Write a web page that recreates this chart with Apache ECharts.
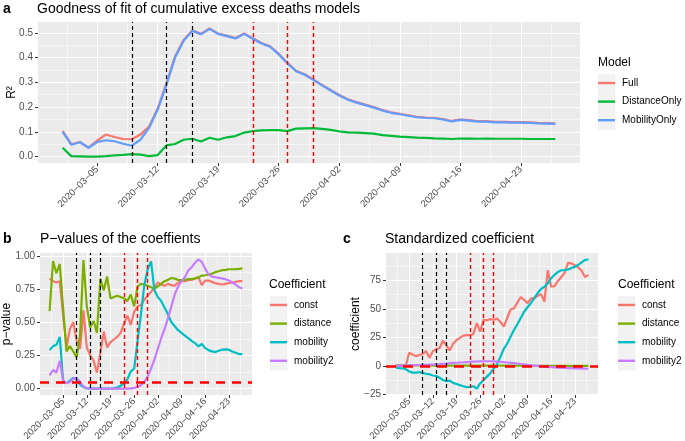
<!DOCTYPE html>
<html>
<head>
<meta charset="utf-8">
<script src="https://cdn.jsdelivr.net/npm/echarts@6/dist/echarts.min.js"></script>
<style>
html, body { margin: 0; padding: 0; background: #fff; }
#main { width: 685px; height: 441px; }
</style>
</head>
<body>
<div id="main"></div>
<script>
// dates of the daily fits
var dates = [
  '2020-03-01','2020-03-02','2020-03-03','2020-03-04','2020-03-05','2020-03-06','2020-03-07','2020-03-08','2020-03-09','2020-03-10',
  '2020-03-11','2020-03-12','2020-03-13','2020-03-14','2020-03-15','2020-03-16','2020-03-17','2020-03-18','2020-03-19','2020-03-20',
  '2020-03-21','2020-03-22','2020-03-23','2020-03-24','2020-03-25','2020-03-26','2020-03-27','2020-03-28','2020-03-29','2020-03-30',
  '2020-03-31','2020-04-01','2020-04-02','2020-04-03','2020-04-04','2020-04-05','2020-04-06','2020-04-07','2020-04-08','2020-04-09',
  '2020-04-10','2020-04-11','2020-04-12','2020-04-13','2020-04-14','2020-04-15','2020-04-16','2020-04-17','2020-04-18','2020-04-19',
  '2020-04-20','2020-04-21','2020-04-22','2020-04-23','2020-04-24','2020-04-25','2020-04-26','2020-04-27'
];
var dateTicks = ['2020-03-05','2020-03-12','2020-03-19','2020-03-26','2020-04-02','2020-04-09','2020-04-16','2020-04-23'];
var blackDates = ['2020-03-09','2020-03-13','2020-03-16'];
var redDates = ['2020-03-23','2020-03-27','2020-03-30'];

// a: R2
var r2Full = [0.104,0.050,0.059,0.036,0.065,0.089,0.079,0.071,0.070,0.089,0.121,0.195,0.295,0.404,0.471,0.510,0.496,0.518,0.497,0.489,0.479,0.498,0.478,0.459,0.446,0.415,0.379,0.347,0.333,0.312,0.290,0.269,0.249,0.232,0.220,0.210,0.200,0.188,0.179,0.173,0.167,0.161,0.158,0.157,0.152,0.144,0.150,0.147,0.143,0.143,0.140,0.140,0.139,0.139,0.138,0.136,0.135,0.134];
var r2Distance = [0.036,0.002,0.001,0.000,0.000,0.002,0.005,0.007,0.010,0.008,0.002,0.006,0.045,0.051,0.068,0.072,0.061,0.076,0.068,0.078,0.083,0.097,0.103,0.106,0.107,0.107,0.103,0.113,0.114,0.115,0.112,0.108,0.102,0.098,0.097,0.095,0.093,0.087,0.084,0.081,0.079,0.077,0.076,0.074,0.073,0.071,0.073,0.073,0.072,0.073,0.072,0.072,0.072,0.072,0.071,0.071,0.071,0.071];
var r2Mobility = [0.100,0.048,0.058,0.035,0.059,0.066,0.062,0.052,0.044,0.068,0.116,0.190,0.290,0.400,0.468,0.508,0.494,0.516,0.495,0.487,0.477,0.496,0.476,0.457,0.444,0.413,0.377,0.345,0.331,0.310,0.288,0.267,0.247,0.230,0.218,0.208,0.198,0.186,0.177,0.171,0.165,0.159,0.156,0.155,0.150,0.142,0.148,0.145,0.141,0.141,0.138,0.138,0.137,0.137,0.136,0.134,0.133,0.132];

// b: p-values
var pConst = [0.83,0.81,0.80,0.81,0.55,0.31,0.45,0.50,0.36,0.30, 0.59,0.31,0.25,0.21,0.12,0.27,0.43,0.31,0.35,0.37, 0.39,0.42,0.49,0.55,0.48,0.58,0.62,0.63,0.67,0.70, 0.73,0.76,0.80,0.785,0.775,0.79,0.78,0.775,0.80,0.81, 0.81,0.82,0.82,0.83,0.84,0.78,0.815,0.815,0.805,0.795, 0.79,0.785,0.79,0.795,0.80,0.805,0.81,0.81];
var pDistance = [0.585,0.962,0.87,0.94,0.60,0.28,0.32,0.28,0.235,0.40, 0.97,0.62,0.46,0.51,0.42,0.83,0.74,0.845,0.68,0.69, 0.70,0.69,0.68,0.66,0.71,0.62,0.77,0.79,0.785,0.776, 0.765,0.755,0.77,0.79,0.81,0.82,0.834,0.83,0.82,0.818, 0.82,0.825,0.827,0.83,0.84,0.852,0.855,0.86,0.867,0.878, 0.885,0.893,0.896,0.90,0.90,0.901,0.903,0.906];
var pMobility = [0.29,0.32,0.33,0.39,0.06,0.04,0.06,0.08,0.07,0.03, 0.01,0.002,0,0,0,0,0,0,0,0.002, 0.01,0.02,0.04,0.07,0.13,0.15,0.36,0.56,0.78,0.90, 0.96,0.74,0.69,0.66,0.61,0.56,0.50,0.47,0.44,0.42, 0.40,0.38,0.36,0.343,0.318,0.336,0.305,0.29,0.28,0.275, 0.285,0.293,0.295,0.293,0.28,0.27,0.26,0.26];
var pMobility2 = [0.10,0.14,0.12,0.21,0.06,0.04,0.05,0.075,0.08,0.05, 0.015,0.003,0,0,0,0,0,0,0,0, 0,0,0,0,0.001,0.005,0.012,0.025,0.05,0.09, 0.15,0.22,0.30,0.38,0.45,0.53,0.62,0.71,0.77,0.81, 0.84,0.89,0.915,0.95,0.974,0.955,0.905,0.86,0.845,0.84, 0.835,0.83,0.825,0.815,0.80,0.785,0.765,0.755];
var pCutoff = 0.05;

// c: standardized coefficients
var cConst = [0,0,0,0,11.5,10,8.5,9.5,10.5,13, 7,12.6,14.7,15.6,22,18,13.5,19.5,22.5,24.5, 26.5,27,27,28,37.5,30,40.5,40,41,40.5, 41.5,38.5,34.5,42,49.5,50.5,55.5,60.5,58,55, 59,59.5,61.5,63,56.5,84,69.5,70,74.5,78, 82,90.5,90,88.5,86.5,83.5,78,80];
var cDistance = [0.3,0.3,0.3,0.3,0.3,0.3,0.3,0.3,0.2,0.2, 0.2,0.2,0.2,0.2,0.2,0.2,0.2,0.2,0.2,0.2, 0.1,0.1,0.1,0.1,0.1,0.1,0.1,0.1,0.1,0.1, 0.1,0.1,0.1,0.1,0.1,0.1,0.1,0.1,0.1,0.1, 0,0,0,0,0,0,0,0,0,0, 0,0,0,0,0,0,0,0];
var cMobility = [-1.5,-2,-2.2,-3,-5,-6,-6,-5.5,-6.5,-7, -7.5,-8.5,-9,-10.5,-12.5,-13.5,-13,-15,-16,-17, -18,-18.8,-18.5,-18,-20,-15.5,-12.5,-9.5,-6.5,-2.5, 1.5,8,15,19.5,25.5,31.5,36.5,42,47.5,51.5, 55,59.5,64,67.5,69.5,72.5,77,80,82.5,84, 84,84.7,86,87,88.8,91,93,93.5];
var cMobility2 = [0,0.1,0.2,0.3,0.4,0.5,0.6,0.7,0.8,0.9, 1.0,1.1,1.3,1.5,1.8,2.0,2.3,2.5,2.7,2.9, 3.0,3.2,3.4,3.6,3.8,3.9,4.0,4.0,4.0,3.9, 3.7,3.5,3.2,2.9,2.6,2.3,2.0,1.6,1.2,0.8, 0.5,0.2,-0.1,-0.4,-0.7,-1.0,-1.2,-1.4,-1.6,-1.8, -1.9,-2.0,-2.1,-2.2,-2.3,-2.4,-2.5,-2.6];

var aTicks = [0, 0.1, 0.2, 0.3, 0.4, 0.5];
var bTicks = [0, 0.25, 0.5, 0.75, 1];
var cTicks = [-25, 0, 25, 50, 75];

var modelNames = ['Full', 'DistanceOnly', 'MobilityOnly'];
var coefNames = ['const', 'distance', 'mobility', 'mobility2'];
var col3 = ['#F8766D', '#00BA38', '#619CFF'];
var col4 = ['#F8766D', '#7CAE00', '#00BFC4', '#C77CFF'];

var F = '"Liberation Sans", Arial, sans-serif';
var DAY = 86400000;
var t0 = Date.UTC(2020, 2, 1);
function dayNum(s) {
  return (Date.UTC(+s.slice(0, 4), +s.slice(5, 7) - 1, +s.slice(8, 10)) - t0) / DAY;
}
function fmtDate(v) {
  return new Date(t0 + Math.round(v) * DAY).toISOString().slice(0, 10).replace(/-/g, '\u2212');
}
function minorOf(ticks, lo, hi) {
  var out = [], step = ticks[1] - ticks[0];
  for (var v = ticks[0] - step / 2; v < hi; v += step) if (v > lo) out.push(v);
  return out;
}

var days = dates.map(dayNum);
var span = days[days.length - 1] - days[0];
var xMin = days[0] - 0.05 * span, xMax = days[days.length - 1] + 0.05 * span;
var xTicks = dateTicks.map(dayNum);
var xMinor = minorOf(xTicks, xMin, xMax);

function pairs(vals) {
  return vals.map(function (v, i) { return [days[i], v]; });
}
function yRange(arrs) {
  var lo = Math.min.apply(null, [].concat.apply([], arrs));
  var hi = Math.max.apply(null, [].concat.apply([], arrs));
  return [lo - 0.05 * (hi - lo), hi + 0.05 * (hi - lo)];
}

function xAxes(gi) {
  return [{
    type: 'value', gridIndex: gi, min: xMin, max: xMax,
    axisLine: { show: false, onZero: false },
    axisTick: { customValues: xTicks, length: 3, lineStyle: { color: '#333', width: 1 } },
    axisLabel: { customValues: xTicks, formatter: fmtDate, rotate: 45, fontSize: 9.5, color: '#4d4d4d', margin: 5, fontFamily: F },
    splitLine: { show: true, lineStyle: { color: '#fff', width: 1.1 } }
  }, {
    type: 'value', gridIndex: gi, min: xMin, max: xMax, position: 'top',
    axisLine: { show: false, onZero: false },
    axisTick: { show: false, customValues: xMinor },
    axisLabel: { show: false },
    splitLine: { show: true, lineStyle: { color: '#fff', width: 0.5 } }
  }];
}
function yAxes(gi, range, ticks, fmt, name, gap) {
  return [{
    type: 'value', gridIndex: gi, min: range[0], max: range[1],
    name: name, nameLocation: 'middle', nameRotate: 90, nameGap: gap, nameMoveOverlap: false,
    nameTextStyle: { fontSize: 12, color: '#000', fontFamily: F },
    axisLine: { show: false, onZero: false },
    axisTick: { customValues: ticks, length: 3, lineStyle: { color: '#333', width: 1 } },
    axisLabel: { customValues: ticks, formatter: fmt, fontSize: 10, color: '#4d4d4d', margin: 5, fontFamily: F },
    splitLine: { show: true, lineStyle: { color: '#fff', width: 1.1 } }
  }, {
    type: 'value', gridIndex: gi, min: range[0], max: range[1], position: 'right',
    axisLine: { show: false, onZero: false },
    axisTick: { show: false, customValues: minorOf(ticks, range[0], range[1]) },
    axisLabel: { show: false },
    splitLine: { show: true, lineStyle: { color: '#fff', width: 0.5 } }
  }];
}

function vlines() {
  return blackDates.map(function (d) {
    return { xAxis: dayNum(d), lineStyle: { color: '#000', type: [4, 3], width: 1.2 } };
  }).concat(redDates.map(function (d) {
    return { xAxis: dayNum(d), lineStyle: { color: '#FF0000', type: [4, 3], width: 1.4 } };
  }));
}
function lineSeries(name, vals, color, gi, marks) {
  var s = {
    type: 'line', name: name, data: pairs(vals), xAxisIndex: gi * 2, yAxisIndex: gi * 2,
    showSymbol: false, symbol: 'none', color: color,
    lineStyle: { color: color, width: 2.2 }, emphasis: { disabled: true }, animation: false
  };
  if (marks) s.markLine = { silent: true, symbol: ['none', 'none'], label: { show: false }, animation: false, data: marks };
  return s;
}

var rangeA = yRange([r2Full, r2Distance, r2Mobility]);
var rangeB = yRange([pConst, pDistance, pMobility, pMobility2]);
var rangeC = yRange([cConst, cDistance, cMobility, cMobility2]);

var series = [
  lineSeries('Full', r2Full, col3[0], 0),
  lineSeries('DistanceOnly', r2Distance, col3[1], 0),
  lineSeries('MobilityOnly', r2Mobility, col3[2], 0, vlines()),
  lineSeries('const', pConst, col4[0], 1),
  lineSeries('distance', pDistance, col4[1], 1),
  lineSeries('mobility', pMobility, col4[2], 1),
  lineSeries('mobility2', pMobility2, col4[3], 1, vlines().concat([
    { yAxis: pCutoff, lineStyle: { color: '#FF0000', type: [9, 7], width: 2.6 } }
  ])),
  lineSeries('const', cConst, col4[0], 2),
  lineSeries('distance', cDistance, col4[1], 2),
  lineSeries('mobility', cMobility, col4[2], 2),
  lineSeries('mobility2', cMobility2, col4[3], 2, vlines().concat([
    { yAxis: 0, lineStyle: { color: '#FF0000', type: [10, 7], width: 2.6 } }
  ]))
];

var gridBase = { show: true, backgroundColor: '#EBEBEB', borderWidth: 0, containLabel: false, outerBoundsMode: 'none' };
function legendAt(names, left, top) {
  return {
    data: names, orient: 'vertical', left: left, top: top, icon: 'rect',
    itemWidth: 17, itemHeight: 2.4, itemGap: 0, padding: 0, selectedMode: false,
    textStyle: { fontSize: 10, lineHeight: 18.6, color: '#000', fontFamily: F, padding: [0, 0, 0, 2] }
  };
}
function titleAt(text, left, top, bold) {
  return { text: text, left: left, top: top, padding: 0,
    textStyle: { fontSize: 14, fontWeight: bold ? 'bold' : 'normal', color: '#000', fontFamily: F } };
}
function label(text, x, y) {
  return { type: 'text', x: x, y: y, style: { text: text, fontSize: 12, fontFamily: F, fill: '#000', verticalAlign: 'middle' } };
}
function keyBox(x, y, n) {
  return { type: 'rect', z: -1, shape: { x: x, y: y, width: 17.3, height: n * 18.6 }, style: { fill: '#F2F2F2' } };
}

var myChart = echarts.init(document.getElementById('main'));
var option = {
  animation: false,
  textStyle: { fontFamily: F },
  title: [
    titleAt('a', 3, 2, true),
    titleAt('Goodness of fit of cumulative excess deaths models', 37, 2),
    titleAt('b', 3, 232, true),
    titleAt('P\u2212values of the coeffients', 40, 232),
    titleAt('c', 343, 232, true),
    titleAt('Standardized coefficient', 385, 232)
  ],
  grid: [
    Object.assign({ left: 38, top: 22, width: 542, height: 141 }, gridBase),
    Object.assign({ left: 40, top: 253, width: 212, height: 142 }, gridBase),
    Object.assign({ left: 386, top: 253, width: 212, height: 142 }, gridBase)
  ],
  xAxis: xAxes(0).concat(xAxes(1), xAxes(2)),
  yAxis: yAxes(0, rangeA, aTicks, function (v) { return v.toFixed(1); }, 'R\u00B2', 20)
    .concat(yAxes(1, rangeB, bTicks, function (v) { return v.toFixed(2); }, 'p\u2212value', 27))
    .concat(yAxes(2, rangeC, cTicks, function (v) { return String(v).replace('-', '\u2212'); }, 'coefficient', 24)),
  legend: [
    legendAt(modelNames, 598, 73.7),
    legendAt(coefNames, 270, 295.7),
    legendAt(coefNames, 618, 295.7)
  ],
  graphic: [
    keyBox(598, 74, 3), keyBox(270, 296, 4), keyBox(618, 296, 4),
    label('Model', 598, 63),
    label('Coefficient', 269, 285),
    label('Coefficient', 618, 285)
  ],
  series: series
};
myChart.setOption(option);
</script>
</body>
</html>
